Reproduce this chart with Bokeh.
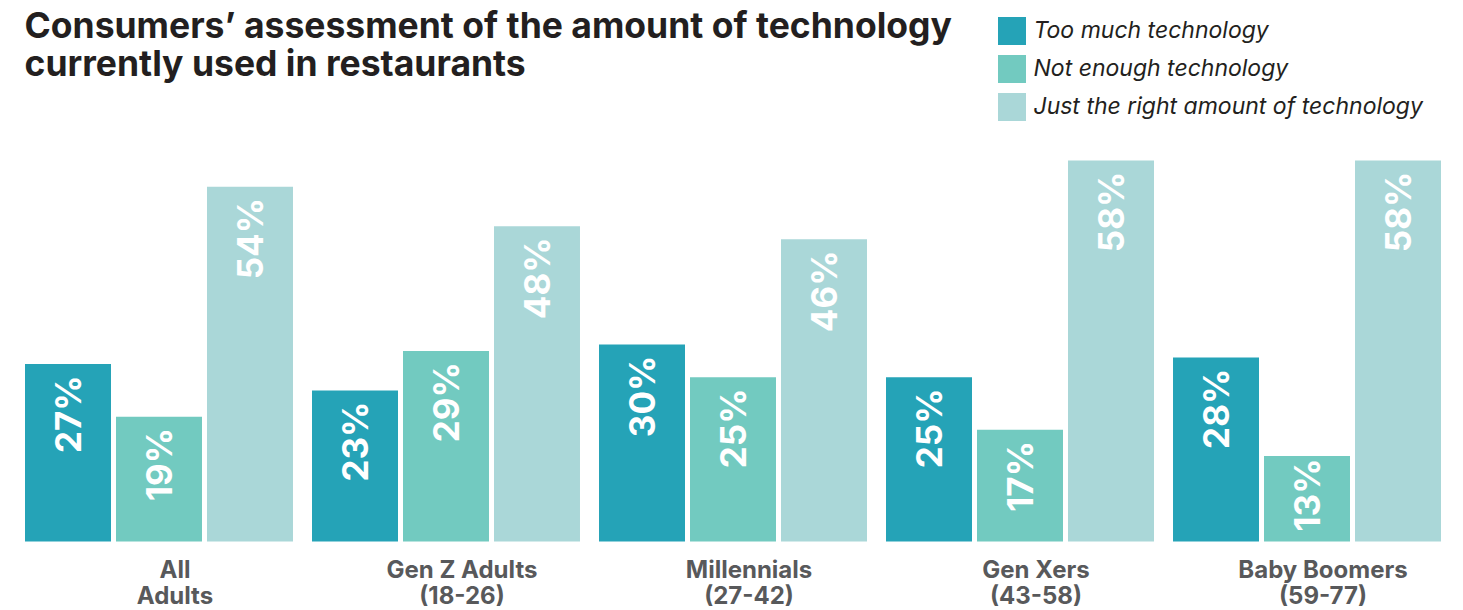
from math import pi
from bokeh.plotting import figure
from bokeh.models import ColumnDataSource, FactorRange, Range1d, Label, Legend, LegendItem
from bokeh.core.properties import value
from bokeh.embed import file_html
from bokeh.resources import INLINE

# ---- data ----
groups = ["All Adults", "Gen Z Adults", "Millennials", "Gen Xers", "Baby Boomers"]
group_labels = ["All\nAdults", "Gen Z Adults\n(18-26)", "Millennials\n(27-42)", "Gen Xers\n(43-58)", "Baby Boomers\n(59-77)"]
series = ["Too much technology", "Not enough technology", "Just the right amount of technology"]
too_much = [27, 23, 30, 25, 28]
not_enough = [19, 29, 25, 17, 13]
just_right = [54, 48, 46, 58, 58]
colors = ["#25A3B7", "#72CAC0", "#AAD7D8"]
title_lines = ["Consumers\u2019 assessment of the amount of technology", "currently used in restaurants"]

FONT = "Inter"
values_by_series = [too_much, not_enough, just_right]
factors = [(g, s) for g in groups for s in series]

W, H = 1463, 610
FRAME_W = 1421
LEFT = 22
PX_PER_UNIT = 6.57
BASE_FROM_TOP = 541

p = figure(
    x_range=FactorRange(*factors, range_padding=0, group_padding=0.154, factor_padding=0, subgroup_padding=0),
    y_range=Range1d(-(H - BASE_FROM_TOP) / PX_PER_UNIT, BASE_FROM_TOP / PX_PER_UNIT),
    frame_width=FRAME_W, frame_height=H,
    min_border_left=LEFT, min_border_right=W - LEFT - FRAME_W, min_border_top=0, min_border_bottom=0,
    x_axis_location=None, y_axis_location=None,
    output_backend="svg", toolbar_location=None,
)
p.grid.visible = False
p.outline_line_color = None
p.background_fill_color = "white"
p.border_fill_color = "white"

renderers = []
for s, vals, c in zip(series, values_by_series, colors):
    offs = [min(11, max(1, (v * PX_PER_UNIT - 77) / 2 - 2)) for v in vals]
    src = ColumnDataSource(dict(
        x=[(g, s) for g in groups],
        top=vals,
        label=[f"{v}%" for v in vals],
        off=offs,
    ))
    r = p.vbar(x="x", top="top", bottom=0, width=0.945, source=src, fill_color=c, line_color=None)
    renderers.append(r)
    p.text(x="x", y="top", text="label", source=src, angle=pi / 2,
           text_align="right", text_baseline="middle", y_offset="off",
           text_color="white", text_font=value(FONT), text_font_style="bold",
           text_font_size="35px")

# category labels
cat_src = ColumnDataSource(dict(x=groups, y=[0] * len(groups), text=group_labels))
p.text(x="x", y="y", text="text", source=cat_src, x_offset=16, y_offset=13,
       text_align="center", text_baseline="top", text_line_height=0.9,
       text_font=value(FONT), text_font_style="bold", text_font_size="24px",
       text_color="#58595B")

# title
for line, top_y in zip(title_lines, [37, 75]):
    p.add_layout(Label(x=2, y=H - top_y + 12, x_units="screen", y_units="screen", text=line,
                       text_font=FONT, text_font_style="bold", text_font_size="35.5px",
                       text_color="#231F20", text_baseline="alphabetic"))

legend = Legend(
    items=[LegendItem(label=s, renderers=[r]) for s, r in zip(series, renderers)],
    location=(971.5, H - 12.5 - 111), orientation="vertical",
    glyph_width=35, glyph_height=35, label_height=35, spacing=3,
    padding=0, margin=0, border_line_color=None, background_fill_alpha=0,
    label_text_font=FONT, label_text_font_style="italic", label_text_font_size="23px",
    label_standoff=5, label_text_color="#231F20",
)
p.add_layout(legend)

open("out.html", "w").write(file_html(p, INLINE))
